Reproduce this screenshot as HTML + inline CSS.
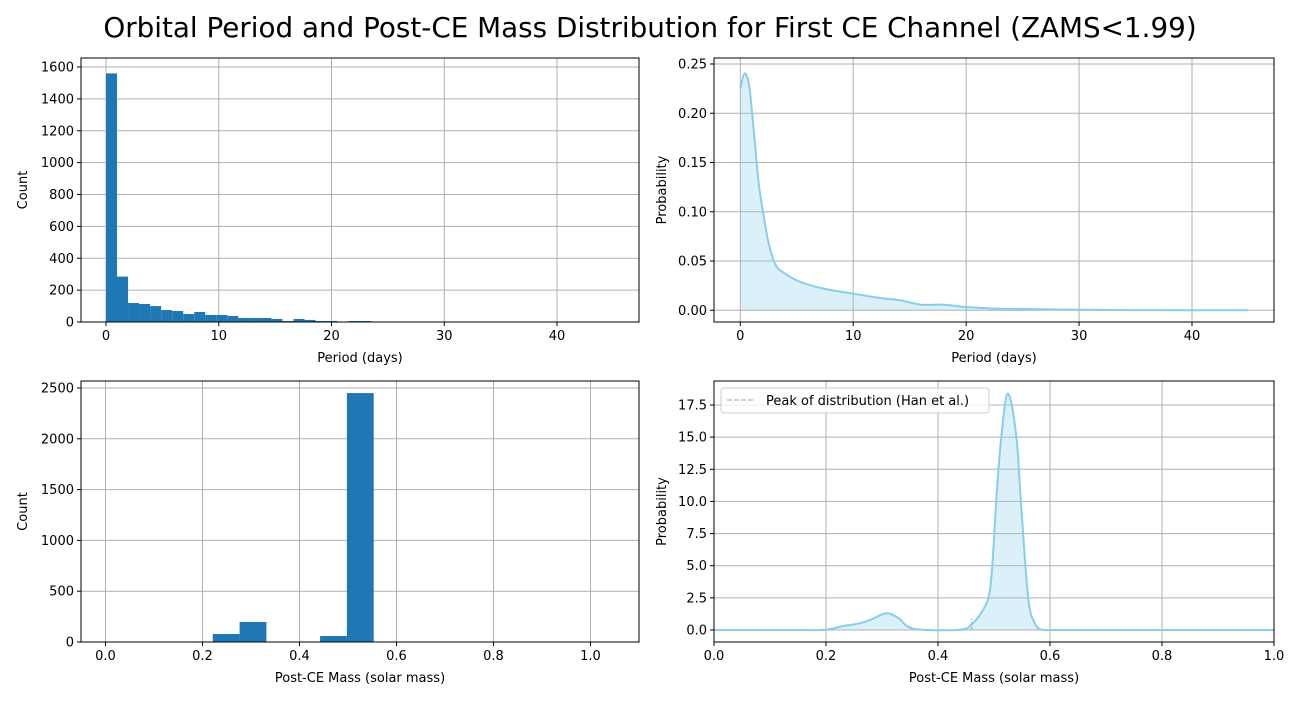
<!DOCTYPE html>
<html><head><meta charset="utf-8"><style>
body{margin:0;background:#fff;font-family:"Liberation Sans","DejaVu Sans",sans-serif}
svg text{font-family:"DejaVu Sans","Liberation Sans",sans-serif;fill:#000}
</style></head><body>
<svg id="fig" width="1300" height="700" viewBox="0 0 1300 700" xmlns="http://www.w3.org/2000/svg">
<rect width="1300" height="700" fill="#fff"/>
<text x="650" y="37" font-size="27.8" text-anchor="middle">Orbital Period and Post-CE Mass Distribution for First CE Channel (ZAMS&lt;1.99)</text>
</svg>
<script>
// ---- data ----
const periodBinWidth = 0.978;
const periodCounts = [1560,285,119,113,100,75,69,50,63,44,44,38,25,25,25,19,6,19,13,6,6,1,6,6,0,0,0,0,0,0,0,0,0,0,0,0,0,0,0,0,0,0,0,0,0,0];
const massBinWidth = 0.0553;
const massCounts = [0,0,0,5,79,197,0,0,59,2450,0,0,0,0,0,0,0,0,0];
const periodKdeX = [0,0.38,0.77,1.06,1.36,1.65,2.1,2.54,3.13,3.86,5.34,7.4,10,12.4,14.2,16,18,20,22.7,25,30,35,40,45];
const periodKdeY = [0.225,0.2405,0.229,0.198,0.161,0.127,0.094,0.0666,0.046,0.038,0.0287,0.022,0.0169,0.0125,0.0101,0.0057,0.0057,0.0034,0.0017,0.0013,0.0005,0.0002,0.0001,0];
const massKdeX = [0,0.15,0.2,0.23,0.26,0.28,0.308,0.33,0.345,0.37,0.44,0.459,0.475,0.49,0.497,0.504,0.513,0.525,0.54,0.548,0.561,0.572,0.583,0.6,0.65,1];
const massKdeY = [0,0,0.02,0.3,0.52,0.8,1.3,0.9,0.3,0.02,0.02,0.4,1.2,2.5,5,10,15,18.4,15,10,2.5,0.6,0.05,0,0,0];
const peakMarkX = 0.46;
const tlY = [0,200,400,600,800,1000,1200,1400,1600], tlX=[0,10,20,30,40];
const blY = [0,500,1000,1500,2000,2500], blX=[0,0.2,0.4,0.6,0.8,1.0];
const trY = [0,0.05,0.1,0.15,0.2,0.25], trX=[0,10,20,30,40];
const brY = [0,2.5,5,7.5,10,12.5,15,17.5], brX=[0,0.2,0.4,0.6,0.8,1.0];

const NS="http://www.w3.org/2000/svg", svg=document.getElementById('fig');
function mk(tag,attrs,parent){const e=document.createElementNS(NS,tag);for(const k in attrs)e.setAttribute(k,attrs[k]);(parent||svg).appendChild(e);return e;}
function scale(d0,d1,p0,p1){return v=>p0+(v-d0)*(p1-p0)/(d1-d0);}

function panel(name,box,sx,sy,xt,yt,xfmt,yfmt,xlabel,ylabel,ylabX){
  const g=mk('g',{});
  
  
  xt.forEach(v=>{const l=mk('line',{x1:sx(v),x2:sx(v),y1:box.y1,y2:box.y0,stroke:'#b0b0b0','stroke-width':1},g);
    });
  yt.forEach(v=>{const l=mk('line',{x1:box.x0,x2:box.x1,y1:sy(v),y2:sy(v),stroke:'#b0b0b0','stroke-width':1},g);
    });
  const plot=mk('g',{},g);
  
  const fr=mk('rect',{x:box.x0,y:box.y1,width:box.x1-box.x0,height:box.y0-box.y1,fill:'none',stroke:'#000','stroke-width':1},g);
  
  xt.forEach(v=>{mk('line',{x1:sx(v),x2:sx(v),y1:box.y0,y2:box.y0+4,stroke:'#000'},g);
    const t=mk('text',{x:sx(v),y:box.y0+18,'font-size':13,'text-anchor':'middle'},g);t.textContent=xfmt(v);
    });
  yt.forEach(v=>{mk('line',{x1:box.x0-4,x2:box.x0,y1:sy(v),y2:sy(v),stroke:'#000'},g);
    const t=mk('text',{x:box.x0-7,y:sy(v)+4.5,'font-size':13,'text-anchor':'end'},g);t.textContent=yfmt(v);
    });
  const xl=mk('text',{x:(box.x0+box.x1)/2,y:box.y0+40,'font-size':13,'text-anchor':'middle'},g);xl.textContent=xlabel;
  
  const yl=mk('text',{x:ylabX,y:(box.y0+box.y1)/2,'font-size':13,'text-anchor':'middle',transform:`rotate(-90 ${ylabX} ${(box.y0+box.y1)/2})`},g);yl.textContent=ylabel;
  
  const cid='clip-'+name;
  const cp=mk('clipPath',{id:cid},g);mk('rect',{x:box.x0,y:box.y1,width:box.x1-box.x0,height:box.y0-box.y1},cp);
  plot.setAttribute('clip-path',`url(#${cid})`);
  g.insertBefore(plot,fr);
  return {sx,sy,plot,g};
}
function hist(p,counts,w){
  counts.forEach((c,i)=>{if(c<=0)return;const x0=p.sx(i*w),x1=p.sx((i+1)*w);
    const r=mk('rect',{x:x0,y:p.sy(c),width:x1-x0,height:p.sy(0)-p.sy(c),fill:'#1f77b4'},p.plot);
    });
}
function smoothPath(pts){
  let d='M'+pts[0][0].toFixed(1)+','+pts[0][1].toFixed(1);
  for(let i=0;i<pts.length-1;i++){
    const p0=pts[Math.max(i-1,0)],p1=pts[i],p2=pts[i+1],p3=pts[Math.min(i+2,pts.length-1)];
    const c1=[p1[0]+(p2[0]-p0[0])/6,p1[1]+(p2[1]-p0[1])/6],c2=[p2[0]-(p3[0]-p1[0])/6,p2[1]-(p3[1]-p1[1])/6];
    d+=`C${c1[0].toFixed(1)},${c1[1].toFixed(1)} ${c2[0].toFixed(1)},${c2[1].toFixed(1)} ${p2[0].toFixed(1)},${p2[1].toFixed(1)}`;
  }
  return d;
}
function kde(p,xs,ys){
  const pts=xs.map((x,i)=>[p.sx(x),p.sy(ys[i])]);
  const d=smoothPath(pts);
  const a=mk('path',{d:d+`L${p.sx(xs[xs.length-1])},${p.sy(0)}L${p.sx(xs[0])},${p.sy(0)}Z`,fill:'#87ceeb','fill-opacity':0.3,stroke:'none'},p.plot);
  
  const l=mk('path',{d,fill:'none',stroke:'#87ceeb','stroke-width':2,'stroke-linejoin':'round'},p.plot);
  
}
const int=v=>String(v), f1=v=>v.toFixed(1), f2=v=>v.toFixed(2);

const b1={x0:81,x1:639,y0:322,y1:58};
const p1=panel('period-histogram',b1,scale(0,40,106,557),scale(0,1600,322,67),tlX,tlY,int,int,'Period (days)','Count',27);
hist(p1,periodCounts,periodBinWidth);

const b2={x0:714,x1:1274,y0:322,y1:58};
const p2=panel('period-kde',b2,scale(0,40,740.3,1192),scale(0,0.25,310.3,64),trX,trY,int,f2,'Period (days)','Probability',666);
kde(p2,periodKdeX,periodKdeY);

const b3={x0:81,x1:639,y0:642,y1:381};
const p3=panel('mass-histogram',b3,scale(0,1,105.5,590.5),scale(0,2500,642,388),blX,blY,f1,int,'Post-CE Mass (solar mass)','Count',27);
hist(p3,massCounts,massBinWidth);

const b4={x0:714,x1:1274,y0:642,y1:381};
const p4=panel('mass-kde',b4,scale(0,1,714,1274),scale(0,17.5,630,405),brX,brY,f1,f1,'Post-CE Mass (solar mass)','Probability',666);
kde(p4,massKdeX,massKdeY);
const pk=mk('line',{x1:p4.sx(peakMarkX),x2:p4.sx(peakMarkX),y1:p4.sy(0),y2:p4.sy(0)-11,stroke:'#8ab8d8','stroke-width':1.5,'stroke-dasharray':'3,2'},p4.plot);


const lg=mk('g',{},p4.g);


mk('rect',{x:721,y:388,width:268,height:25,rx:3,fill:'#fff','fill-opacity':0.8,stroke:'#ccc'},lg);
mk('line',{x1:727,x2:755,y1:400,y2:400,stroke:'#9ecae1','stroke-width':1.5,'stroke-dasharray':'5,2'},lg);
const lt=mk('text',{x:766,y:405,'font-size':13},lg);lt.textContent='Peak of distribution (Han et al.)';


</script>
</body></html>
